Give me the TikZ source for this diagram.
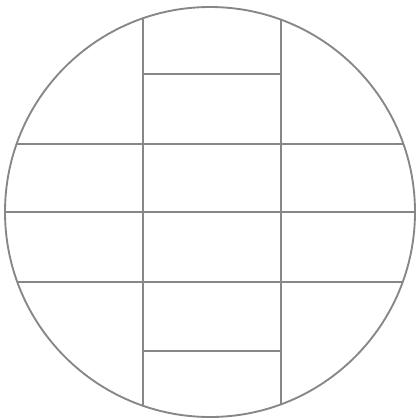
\documentclass[tikz,border=0pt]{standalone}
\usepackage{tikz}

\definecolor{linha}{RGB}{135,135,135}

\begin{document}
\begin{tikzpicture}[
        x=0.03cm, y=-0.03cm,
        traco/.style={draw=linha, line width=1.6pt}
    ]

        % ==================================================
        % MOLDURA
        % ==================================================

        \useasboundingbox (0,0) rectangle (419,420);

        \coordinate (centro) at (210,212);

        % Linhas internas (recortadas pelo circulo)
        \begin{scope}
            \clip (centro) circle (205);

            % Verticais
            \draw[traco] (143,0) -- (143,420);
            \draw[traco] (281,0) -- (281,420);

            % Horizontais
            \draw[traco] (0,144) -- (419,144);
            \draw[traco] (0,212) -- (419,212);
            \draw[traco] (0,282) -- (419,282);
        \end{scope}

        % Horizontais curtas
        \draw[traco] (143,74) -- (281,74);
        \draw[traco] (143,351) -- (281,351);

        % Circulo
        \draw[traco] (centro) circle (205);
    \end{tikzpicture}
\end{document}
